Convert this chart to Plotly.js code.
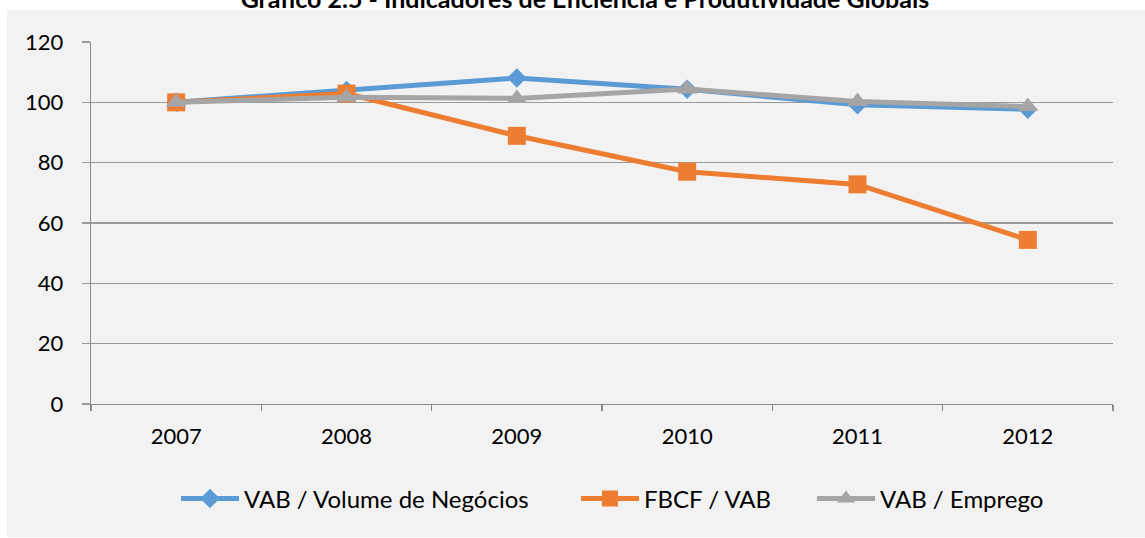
<!DOCTYPE html>
<html>
<head>
<meta charset="utf-8">
<script src="https://cdn.plot.ly/plotly-3.0.1.min.js"></script>
<style>html,body{margin:0;padding:0;background:#fff;}#chart{width:1145px;height:538px;}</style>
</head>
<body>
<div id="chart"></div>
<script>
const years = ['2007', '2008', '2009', '2010', '2011', '2012'];
const vabVolume = [100, 103.9, 108.1, 104.3, 99.2, 97.7];
const fbcfVab = [100, 102.9, 88.9, 77.0, 72.8, 54.4];
const vabEmprego = [100, 101.7, 101.3, 104.4, 100.3, 98.6];
const seriesNames = ['VAB / Volume de Negócios', 'FBCF / VAB', 'VAB / Emprego'];
const titleText = 'Gráfico 2.5 - Indicadores de Eficiência e Produtividade Globais';

const W = 1145, H = 538;
const L = 91, R = 1113, T = 42, B = 404;
const pw = R - L, ph = B - T;
const px = v => (v - L) / pw;
const py = v => (B - v) / ph;

const font = 'Lato, "Open Sans", sans-serif';

const traces = [
  {x: years, y: vabVolume, name: seriesNames[0], type: 'scatter', mode: 'lines+markers', legend: 'legend',
   line: {color: '#5b9bd5', width: 5}, marker: {symbol: 'diamond', size: 15, color: '#5b9bd5'}},
  {x: years, y: fbcfVab, name: seriesNames[1], type: 'scatter', mode: 'lines+markers', legend: 'legend2',
   line: {color: '#ed7d31', width: 5}, marker: {symbol: 'square', size: 18, color: '#ed7d31'}},
  {x: years, y: vabEmprego, name: seriesNames[2], type: 'scatter', mode: 'lines+markers', legend: 'legend3',
   line: {color: '#a5a5a5', width: 5}, marker: {symbol: 'triangle-up', size: 18, color: '#a5a5a5'}}
];

const legendBase = (x) => ({orientation: 'h', x: px(x), xanchor: 'left', y: py(499), yanchor: 'middle',
  bgcolor: 'rgba(0,0,0,0)', itemwidth: 58, font: {family: font, size: 24, color: '#000'}});

const layout = {
  width: W, height: H,
  margin: {l: L, r: W - R, t: T, b: H - B, pad: 0},
  paper_bgcolor: '#ffffff',
  plot_bgcolor: 'rgba(0,0,0,0)',
  font: {family: font, size: 22, color: '#000'},
  title: {text: '<b>' + titleText + '</b>', font: {family: font, size: 25, color: '#000'},
          x: 585 / W, xanchor: 'center', xref: 'container',
          y: 1 - 8 / H, yanchor: 'bottom', yref: 'container'},
  shapes: [{type: 'rect', xref: 'paper', yref: 'paper', layer: 'below',
            x0: px(7), x1: px(1145), y0: py(537), y1: py(10),
            fillcolor: '#f2f2f2', line: {width: 0}}],
  xaxis: {type: 'category', range: [-0.5, 5.5], showgrid: false, zeroline: false,
          showline: true, linecolor: '#8c8c8c', linewidth: 1.3,
          ticks: 'outside', tickson: 'boundaries', ticklen: 6, tickcolor: '#8c8c8c', tickwidth: 1.3,
          ticklabelstandoff: 12,
          tickfont: {family: font, size: 22, color: '#000'}},
  yaxis: {range: [0, 120], dtick: 20, tick0: 0, showgrid: true, gridcolor: '#9a9a9a', gridwidth: 1.3,
          zeroline: false, showline: true, linecolor: '#8c8c8c', linewidth: 1.3,
          ticks: 'outside', ticklen: 8, tickcolor: '#9a9a9a', tickwidth: 1.3,
          ticklabelstandoff: 14,
          tickfont: {family: font, size: 22, color: '#000'}},
  showlegend: true,
  legend: legendBase(176),
  legend2: legendBase(576),
  legend3: legendBase(812)
};

Plotly.newPlot('chart', traces, layout, {displayModeBar: false, staticPlot: true});
</script>
</body>
</html>
